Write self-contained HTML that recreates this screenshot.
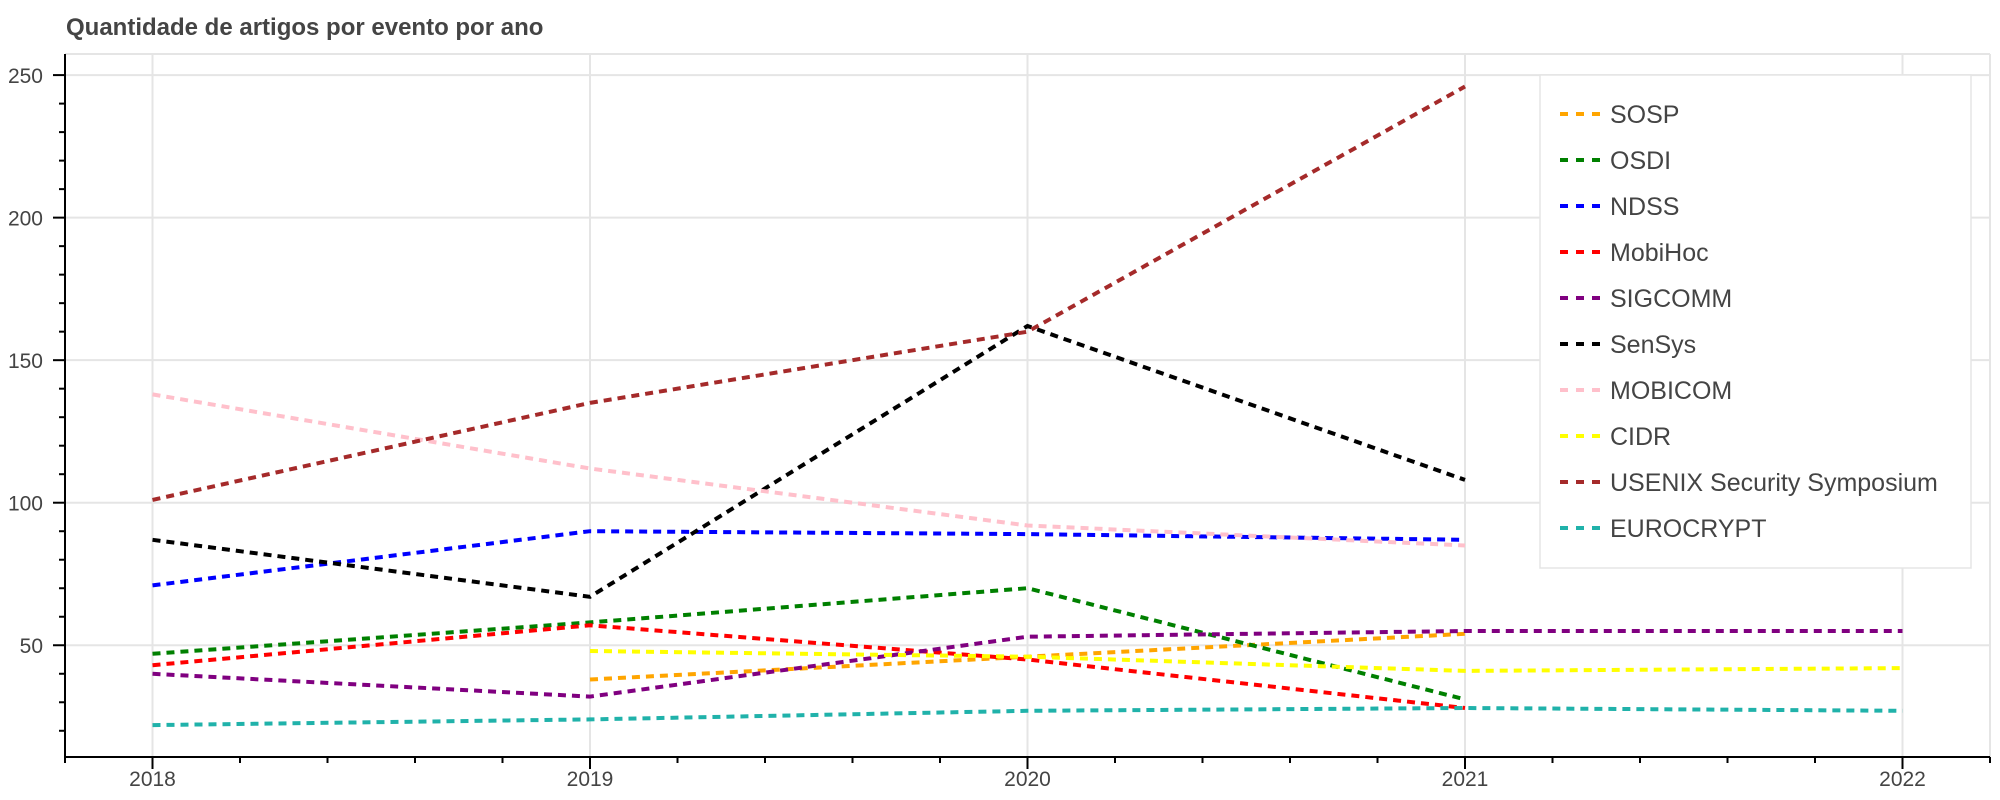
<!DOCTYPE html>
<html><head><meta charset="utf-8"><style>
html,body{margin:0;padding:0;background:#fff;}
body{position:relative;width:2000px;height:800px;overflow:hidden;}
svg{display:block;font-family:"Liberation Sans",sans-serif;}
#title{position:absolute;left:66px;top:12px;font-family:"Liberation Sans",sans-serif;font-size:24px;font-weight:bold;color:#444;white-space:nowrap;line-height:32px;}
</style></head><body>
<svg id="chart" width="2000" height="800" viewBox="0 0 2000 800" xmlns="http://www.w3.org/2000/svg">
<g id="grid"></g>
<g id="series"></g>
<g id="axes"></g>
<g id="legend"></g>
</svg>
<div id="title">Quantidade de artigos por evento por ano</div>
<script>
const years = [2018, 2019, 2020, 2021, 2022];
const seriesNames = ["SOSP","OSDI","NDSS","MobiHoc","SIGCOMM","SenSys","MOBICOM","CIDR","USENIX Security Symposium","EUROCRYPT"];
const seriesColors = ["orange","green","blue","red","purple","black","pink","yellow","brown","lightseagreen"];
const sospValues = [null, 38, 46, 54, null];
const osdiValues = [47, 58, 70, 31, null];
const ndssValues = [71, 90, 89, 87, null];
const mobihocValues = [43, 57, 45, 28, null];
const sigcommValues = [40, 32, 53, 55, 55];
const sensysValues = [87, 67, 162, 108, null];
const mobicomValues = [138, 112, 92, 85, null];
const cidrValues = [null, 48, 46, 41, 42];
const usenixValues = [101, 135, 160, 246, null];
const eurocryptValues = [22, 24, 27, 28, 27];
const yTicks = [50, 100, 150, 200, 250];
const xTicks = [2018, 2019, 2020, 2021, 2022];

const allValues = [sospValues, osdiValues, ndssValues, mobihocValues, sigcommValues, sensysValues, mobicomValues, cidrValues, usenixValues, eurocryptValues];
const NS = "http://www.w3.org/2000/svg";
const L = 65, R = 1990, T = 54, B = 757;
const xMin = 2017.8, xMax = 2022.2, yMin = 10.8, yMax = 257.4;
const xs = v => L + (v - xMin) / (xMax - xMin) * (R - L);
const ys = v => B - (v - yMin) / (yMax - yMin) * (B - T);
function mk(tag, attrs, parent) {
  const e = document.createElementNS(NS, tag);
  for (const k in attrs) e.setAttribute(k, attrs[k]);
  parent.appendChild(e);
  return e;
}
const grid = document.getElementById('grid');
const axes = document.getElementById('axes');
const series = document.getElementById('series');
const legend = document.getElementById('legend');

let ol = mk('line', {x1: L, y1: T, x2: R, y2: T, stroke: '#e5e5e5', 'stroke-width': 2}, grid);


let or2 = mk('line', {x1: R, y1: T, x2: R, y2: B, stroke: '#e5e5e5', 'stroke-width': 2}, grid);



yTicks.forEach(t => {
  const g = mk('line', {x1: L, y1: ys(t), x2: R, y2: ys(t), stroke: '#e5e5e5', 'stroke-width': 2}, grid);
  
  
  const tk = mk('line', {x1: L - 12, y1: ys(t), x2: L, y2: ys(t), stroke: '#000', 'stroke-width': 2}, axes);
  
  
  const lb = mk('text', {x: 43, y: ys(t) + 8, 'text-anchor': 'end', 'font-size': 21, fill: '#444'}, axes);
  lb.textContent = t;
  
  
});
for (let v = 20; v <= 250; v += 10) {
  if (v % 50 === 0) continue;
  const m = mk('line', {x1: L - 6, y1: ys(v), x2: L, y2: ys(v), stroke: '#000', 'stroke-width': 2}, axes);
  
  
}
xTicks.forEach(t => {
  const g = mk('line', {x1: xs(t), y1: T, x2: xs(t), y2: B, stroke: '#e5e5e5', 'stroke-width': 2}, grid);
  
  
  const tk = mk('line', {x1: xs(t), y1: B, x2: xs(t), y2: B + 12, stroke: '#000', 'stroke-width': 2}, axes);
  
  
  const lb = mk('text', {x: xs(t), y: B + 29, 'text-anchor': 'middle', 'font-size': 21, fill: '#444'}, axes);
  lb.textContent = t;
  
  
});
for (let i = -1; i <= 26; i++) {
  const v = 2018 + i * 0.2;
  if (v < xMin - 1e-6 || v > xMax + 1e-6 || i % 5 === 0) continue;
  const m = mk('line', {x1: xs(v), y1: B, x2: xs(v), y2: B + 6, stroke: '#000', 'stroke-width': 2}, axes);
  
  
}
const ya = mk('line', {x1: L, y1: T, x2: L, y2: B + 1, stroke: '#000', 'stroke-width': 2}, axes);


const xa = mk('line', {x1: L, y1: B, x2: R, y2: B, stroke: '#000', 'stroke-width': 2}, axes);



allValues.forEach((vals, si) => {
  const pts = [];
  vals.forEach((v, i) => { if (v !== null) pts.push(xs(years[i]).toFixed(1) + ',' + ys(v).toFixed(1)); });
  const p = mk('polyline', {points: pts.join(' '), fill: 'none', stroke: seriesColors[si], 'stroke-width': 4, 'stroke-dasharray': '8 6'}, series);
  
  
});

const lbox = mk('rect', {x: 1540, y: 75, width: 431, height: 493, fill: '#fff', stroke: '#e5e5e5', 'stroke-width': 1.5}, legend);


seriesNames.forEach((n, i) => {
  const cy = 114 + i * 46;
  const g = mk('g', {}, legend);
  
  
  mk('line', {x1: 1560, y1: cy, x2: 1600, y2: cy, stroke: seriesColors[i], 'stroke-width': 4, 'stroke-dasharray': '8 8'}, g);
  const t = mk('text', {x: 1610, y: cy + 9, 'font-size': 25, fill: '#444'}, g);
  t.textContent = n;
});
</script>
</body></html>
